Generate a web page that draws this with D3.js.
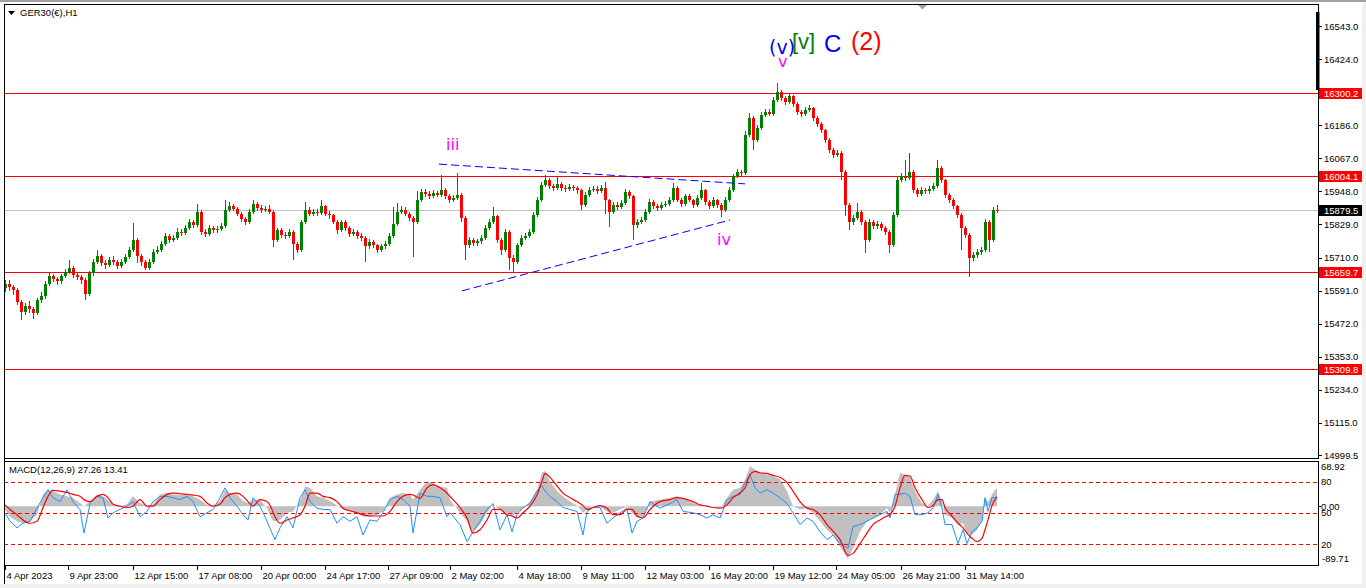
<!DOCTYPE html>
<html><head><meta charset="utf-8">
<script src="https://cdn.jsdelivr.net/npm/d3@7/dist/d3.min.js"></script>
<style>
html,body{margin:0;padding:0;background:#fff;overflow:hidden}
svg{display:block}
text{font-family:"Liberation Sans",Arial,sans-serif}
</style></head><body>
<svg id="c" width="1366" height="588"></svg>
<script>
// ---- price data (4-hour buckets of the H1 chart, bar time index in hours) ----
const hoursPerBar = 4;
const opens = [15600,15615,15604,15593,15550,15514,15535,15525,15510,15557,
15571,15615,15643,15633,15625,15643,15658,15672,15647,15640,
15629,15579,15654,15694,15715,15690,15683,15701,15694,15679,
15694,15712,15737,15773,15715,15694,15672,15694,15730,15737,
15759,15787,15773,15780,15802,15798,15816,15838,15827,15874,
15802,15795,15816,15809,15813,15823,15881,15895,15885,15867,
15849,15838,15874,15903,15888,15881,15885,15874,15773,15809,
15791,15787,15802,15759,15737,15838,15881,15867,15874,15870,
15895,15867,15862,15838,15809,15838,15816,15795,15802,15787,
15780,15751,15766,15755,15737,15751,15759,15787,15831,15874,
15881,15867,15852,15838,15917,15946,15939,15931,15942,15935,
15953,15931,15917,15924,15935,15852,15755,15773,15762,15769,
15780,15816,15838,15859,15773,15737,15802,15708,15694,15755,
15780,15787,15802,15863,15917,15971,15989,15967,15960,15975,
15960,15957,15964,15960,15953,15899,15935,15953,15957,15949,
15960,15917,15874,15899,15892,15906,15946,15931,15827,15838,
15845,15874,15910,15895,15888,15899,15903,15917,15960,15917,
15903,15931,15917,15899,15924,15953,15910,15895,15917,15899,
15881,15917,15953,16003,16018,16014,16151,16212,16133,16176,
16223,16234,16227,16277,16306,16284,16270,16291,16263,16234,
16227,16241,16248,16212,16191,16169,16133,16097,16079,16086,
16018,15899,15838,15852,15874,15838,15773,15838,15823,15831,
15816,15802,15755,15863,15989,16003,15996,16018,15953,15939,
15953,15949,15957,15967,16032,15989,15935,15917,15895,15863,
15816,15791,15708,15719,15730,15737,15838,15773,15881];
const highs = [15630,15628,15612,15600,15558,15548,15552,15533,15566,15585,
15626,15655,15652,15641,15650,15669,15701,15680,15656,15648,
15636,15662,15705,15737,15722,15700,15712,15716,15702,15706,
15724,15748,15834,15780,15722,15700,15704,15742,15752,15770,
15798,15795,15792,15815,15812,15826,15850,15846,15903,15880,
15812,15826,15822,15824,15835,15917,15910,15904,15892,15872,
15856,15884,15917,15910,15898,15896,15900,15880,15818,15815,
15802,15812,15808,15766,15846,15910,15890,15884,15886,15917,
15900,15876,15868,15845,15846,15844,15824,15814,15810,15798,
15786,15776,15774,15760,15760,15770,15798,15892,15906,15894,
15890,15874,15860,15950,15958,15956,15948,15954,15950,16007,
15960,15938,15936,16014,15942,15858,15784,15780,15778,15792,
15826,15848,15892,15864,15780,15812,15810,15720,15764,15790,
15798,15812,15872,15928,15982,16007,15996,15976,16000,15982,
15970,15974,15972,15968,15958,15944,15964,15968,15966,15970,
15982,15922,15908,15910,15916,15958,15954,15936,15848,15856,
15884,15920,15918,15904,15910,15914,15926,15978,15966,15924,
15940,15938,15922,15934,15978,15958,15916,15926,15922,15906,
15926,15962,16012,16028,16026,16165,16230,16218,16186,16234,
16246,16244,16288,16338,16312,16292,16300,16296,16268,16242,
16252,16259,16252,16218,16196,16174,16140,16104,16096,16092,
16024,15906,15864,15906,15880,15844,15850,15846,15842,15838,
15824,15810,15872,15998,16014,16061,16086,16024,15960,15962,
15960,15966,15978,16061,16040,15994,15942,15924,15900,15870,
15824,15798,15730,15740,15748,15848,15845,15890,15900];
const lows = [15585,15590,15575,15538,15485,15505,15512,15490,15502,15548,
15562,15608,15622,15612,15616,15635,15650,15638,15628,15616,
15557,15570,15645,15686,15680,15670,15676,15684,15668,15672,
15688,15705,15730,15690,15680,15664,15665,15688,15722,15730,
15750,15762,15765,15772,15788,15790,15808,15818,15820,15791,
15784,15788,15798,15800,15806,15815,15874,15876,15858,15838,
15826,15830,15866,15878,15870,15872,15866,15748,15766,15782,
15776,15780,15701,15726,15730,15830,15858,15860,15860,15864,
15858,15850,15830,15795,15802,15806,15784,15788,15776,15770,
15694,15742,15744,15726,15730,15742,15752,15780,15824,15866,
15858,15842,15712,15830,15910,15928,15920,15924,15926,15928,
15920,15906,15910,15916,15838,15701,15744,15750,15752,15760,
15772,15808,15830,15762,15719,15730,15665,15654,15688,15748,
15772,15780,15796,15856,15910,15962,15958,15950,15952,15950,
15946,15948,15950,15940,15880,15890,15928,15944,15940,15942,
15866,15820,15866,15882,15884,15898,15922,15773,15816,15830,
15838,15866,15886,15878,15880,15890,15896,15910,15908,15892,
15896,15908,15888,15892,15918,15900,15884,15888,15888,15856,
15874,15910,15946,15996,15998,16008,16142,16097,16126,16168,
16216,16218,16220,16270,16274,16258,16262,16252,16224,16216,
16220,16234,16202,16180,16158,16122,16086,16068,16070,15990,
15860,15809,15826,15844,15826,15726,15766,15812,15814,15806,
15790,15726,15748,15856,15980,15986,15988,15942,15928,15930,
15938,15940,15950,15960,15978,15924,15906,15884,15852,15737,
15780,15640,15698,15708,15720,15730,15730,15766,15870];
const closes = [15615,15604,15593,15550,15514,15535,15525,15510,15557,15571,
15615,15643,15633,15625,15643,15658,15672,15647,15640,15629,
15579,15654,15694,15715,15690,15683,15701,15694,15679,15694,
15712,15737,15773,15715,15694,15672,15694,15730,15737,15759,
15787,15773,15780,15802,15798,15816,15838,15827,15874,15802,
15795,15816,15809,15813,15823,15881,15895,15885,15867,15849,
15838,15874,15903,15888,15881,15885,15874,15773,15809,15791,
15787,15802,15759,15737,15838,15881,15867,15874,15870,15895,
15867,15862,15838,15809,15838,15816,15795,15802,15787,15780,
15751,15766,15755,15737,15751,15759,15787,15831,15874,15881,
15867,15852,15838,15917,15946,15939,15931,15942,15935,15953,
15931,15917,15924,15935,15852,15755,15773,15762,15769,15780,
15816,15838,15859,15773,15737,15802,15708,15694,15755,15780,
15787,15802,15863,15917,15971,15989,15967,15960,15975,15960,
15957,15964,15960,15953,15899,15935,15953,15957,15949,15960,
15917,15874,15899,15892,15906,15946,15931,15827,15838,15845,
15874,15910,15895,15888,15899,15903,15917,15960,15917,15903,
15931,15917,15899,15924,15953,15910,15895,15917,15899,15881,
15917,15953,16003,16018,16014,16151,16212,16133,16176,16223,
16234,16227,16277,16306,16284,16270,16291,16263,16234,16227,
16241,16248,16212,16191,16169,16133,16097,16079,16086,16018,
15899,15838,15852,15874,15838,15773,15838,15823,15831,15816,
15802,15755,15863,15989,16003,15996,16018,15953,15939,15953,
15949,15957,15967,16032,15989,15935,15917,15895,15863,15816,
15791,15708,15719,15730,15737,15838,15773,15881,15879.5];

// ---- horizontal levels ----
const levelPrices = [16300.2, 16004.1, 15659.7, 15309.8];
const currentPrice = 15879.5;
const priceTicks = [16543.0,16424.0,16186.0,16067.0,15948.0,15829.0,15710.0,15591.0,15472.0,15353.0,15234.0,15115.0,14999.5];

// ---- time axis (hour index) ----
const timeTicks = [0,63,128,192,256,320,383,445,512,576,640,704,768,831,896,960];
const timeLabels = ["4 Apr 2023","9 Apr 23:00","12 Apr 15:00","17 Apr 08:00","20 Apr 00:00","24 Apr 17:00","27 Apr 09:00","2 May 02:00","4 May 18:00","9 May 11:00","12 May 03:00","16 May 20:00","19 May 12:00","24 May 05:00","26 May 21:00","31 May 14:00"];

// ---- trend lines [t1,p1,t2,p2] ----
const trendUpper = [434,16046,740,15975];
const trendLower = [457,15590,725,15845];

// ---- wave annotations ----
const waveText  = ["iii","iv","v","(v)","[v]","C","(2)"];
const waveT     = [441,712,773,764,787,819,846];
const waveP     = [16096,15755,16395,16442,16460,16449,16457];
const waveColor = ["#ff00ff","#ff00ff","#ff00ff","#0000ff","#008000","#0000ff","#ff0000"];
const waveSize  = [16,16,16,19,22,24,25];
const waveFont  = ["DejaVu Sans","DejaVu Sans","DejaVu Sans","DejaVu Sans","Liberation Sans","Liberation Sans","Liberation Sans"];

// ---- MACD(12,26,9) ----
const macdT = [0,5,12,18,25,32,38,43,48,55,62,68,75,79,85,92,98,103,108,115,122,128,135,142,148,155,162,168,175,182,188,195,202,208,215,220,225,232,238,243,248,255,262,267,270,275,282,288,295,300,305,312,318,325,332,338,345,352,358,365,372,378,385,392,398,405,408,415,422,428,435,442,445,455,462,468,475,482,488,495,502,507,512,518,525,532,537,540,545,552,558,565,572,578,582,588,595,602,608,615,622,627,632,638,645,655,665,672,678,688,695,702,708,715,722,728,735,740,745,750,755,762,768,775,782,788,795,802,808,815,822,828,835,843,848,855,862,868,875,882,885,890,895,900,905,910,917,923,928,933,937,940,947,953,958,962,967,972,977,980,983,987,990,992];
const macdMain = [-5,-16,-23,-26,-23,-13,18,25,23,18,
15,13,5,-1,8,18,15,10,2,0,
3,15,5,0,3,18,20,18,17,17,
15,10,2,1,8,25,20,18,8,5,
10,10,-3,-21,-23,-21,-10,-8,7,30,
28,15,13,8,1,-5,-8,-10,-16,-16,
-13,-8,13,18,20,18,10,25,38,35,
30,28,10,-10,-23,-39,-28,-10,2,-5,
-10,-15,-10,-3,7,25,51,54,38,23,
15,7,1,-10,-5,1,-1,-8,-10,-5,
-1,-10,-18,-16,7,10,13,15,13,5,
2,1,0,-3,13,25,28,40,61,56,
51,48,46,41,23,0,-5,-3,-10,-23,
-36,-44,-62,-80,-64,-39,-23,-18,-13,-3,
-10,18,51,48,44,23,4,1,10,23,
7,-13,-18,-28,-26,-41,-44,-36,-23,13,
6,18,25,27.26];
const macdSignal = [2,-5,-13,-21,-26,-23,-2,15,24,23,
21,18,15,10,7,15,18,13,3,0,
-2,0,10,0,0,10,18,20,19,18,
17,15,5,0,3,13,18,20,15,7,
0,10,7,-5,-16,-26,-21,-18,-13,0,
20,20,15,13,7,-3,-7,-10,-13,-15,
-15,-15,-8,7,15,18,17,12,28,33,
28,20,15,-2,-18,-41,-36,-21,-5,-5,
-13,-15,-18,-10,0,17,38,50,44,31,
20,13,7,1,-5,-2,1,-3,-13,-13,
-5,-5,-15,-18,-5,7,10,13,12,7,
2,0,-2,-3,2,13,20,28,48,53,
51,50,47,44,36,23,7,-3,-5,-13,
-28,-38,-51,-75,-72,-57,-41,-28,-21,-15,
-13,0,28,47,46,28,10,-2,1,10,
10,-2,-15,-26,-33,-41,-49,-54,-49,-36,
-21,1,10,13.41];
const macdFast = [-10,-23,-33,-26,-23,-3,13,25,13,7,
25,7,-5,-41,4,15,13,-18,-10,-5,
0,7,-16,-8,7,15,15,13,10,15,
7,-16,-10,-5,13,28,13,0,-13,-21,
13,0,-23,-41,-51,-33,-16,-33,13,25,
7,-3,-5,-5,-26,-16,-23,-16,-44,-21,
-23,-10,10,15,10,0,-41,20,15,15,
13,-16,-10,-28,-54,-39,-23,-5,4,-36,
-13,-39,-13,-2,4,23,31,23,15,7,
-2,-5,-8,-44,-8,-2,-2,-26,-18,-10,
-3,-41,-23,-18,7,-3,4,10,-8,-10,
-13,-18,-13,-18,10,15,18,36,48,28,
20,25,20,13,4,-10,-28,-18,-23,-39,
-51,-44,-57,-64,-31,-28,-23,-18,-13,-8,
-18,18,18,20,15,-13,-13,-10,-3,18,
-3,-28,-28,-57,-36,-57,-39,-33,-23,13,
-8,13,13,15];
const macdLevels = [80,50,20];
const macdRange = [-89.71, 68.92];

// ================= drawing =================
const svg = d3.select("#c");
const W = 1366, H = 588;
const L = 4, R = 1318, mainTop = 4, mainBot = 458, mTop = 461, mBot = 565;

svg.append("rect").attr("width",W).attr("height",H).attr("fill","#f0f0f0");
svg.append("rect").attr("x",0).attr("y",2).attr("width",1362).attr("height",582).attr("fill","#fff");
svg.append("rect").attr("x",0).attr("y",0).attr("width",W).attr("height",2).attr("fill","#a0a0a0");

const x  = d3.scaleLinear().domain([0,992]).range([5,997]);
const y  = d3.scaleLinear().domain([14999.5,16543]).range([455,26]);
const ym = d3.scaleLinear().domain(macdRange).range([mBot,mTop]);
const yl = d3.scaleLinear().domain([0,100]).range([mBot,mTop]);

const defs = svg.append("defs");
defs.append("clipPath").attr("id","mc").append("rect").attr("x",L+1).attr("y",mainTop+1).attr("width",R-L-1).attr("height",mainBot-mainTop-1);
defs.append("clipPath").attr("id","dc").append("rect").attr("x",L+1).attr("y",mTop+1).attr("width",R-L-1).attr("height",mBot-mTop-1);

// main panel
const gm = svg.append("g").attr("clip-path","url(#mc)");
gm.append("line").attr("x1",L).attr("x2",R).attr("y1",Math.round(y(currentPrice))+0.5).attr("y2",Math.round(y(currentPrice))+0.5)
  .attr("stroke","#c0c0c0").attr("shape-rendering","crispEdges");
gm.selectAll("line.lvl").data(levelPrices).join("line").attr("class","lvl")
  .attr("x1",L).attr("x2",R).attr("y1",d=>Math.round(y(d))+0.5).attr("y2",d=>Math.round(y(d))+0.5)
  .attr("stroke","#ff0000").attr("shape-rendering","crispEdges");

const idx = d3.range(closes.length);
const col = i => closes[i] > opens[i] ? "#008000" : (closes[i] < opens[i] ? "#ff0000" : "#000000");
const cx = i => Math.round(x(i*hoursPerBar));
const gc = gm.append("g").attr("shape-rendering","crispEdges");
gc.selectAll("line.w").data(idx).join("line").attr("class","w")
  .attr("x1",i=>cx(i)+0.5).attr("x2",i=>cx(i)+0.5)
  .attr("y1",i=>y(highs[i])).attr("y2",i=>y(lows[i])).attr("stroke",col);
gc.selectAll("rect.b").data(idx).join("rect").attr("class","b")
  .attr("x",i=>cx(i)-1).attr("width",3)
  .attr("y",i=>y(Math.max(opens[i],closes[i])))
  .attr("height",i=>Math.max(1,Math.abs(y(opens[i])-y(closes[i]))))
  .attr("fill",col);

// trend lines
gm.selectAll("line.tr").data([trendUpper,trendLower]).join("line").attr("class","tr")
  .attr("x1",d=>x(d[0])).attr("y1",d=>y(d[1])).attr("x2",d=>x(d[2])).attr("y2",d=>y(d[3]))
  .attr("stroke","#0000ff").attr("stroke-width",1).attr("stroke-dasharray","8,4");

// wave labels
gm.selectAll("text.wv").data(waveText).join("text").attr("class","wv")
  .attr("x",(d,i)=>x(waveT[i])).attr("y",(d,i)=>y(waveP[i]))
  .attr("fill",(d,i)=>waveColor[i]).attr("font-size",(d,i)=>waveSize[i]+"px")
  .style("font-family",(d,i)=>'"'+waveFont[i]+'"').text(d=>d);

// title
svg.append("path").attr("d","M8,11L15,11L11.5,15Z").attr("fill","#000");
svg.append("text").attr("x",20).attr("y",16).attr("font-size","9.5px").attr("fill","#000").text("GER30(€),H1");
// shift marker
svg.append("path").attr("d","M918,5L927,5L922.5,9.5Z").attr("fill","#a0a0a0");

// price axis
const pa = svg.append("g").attr("transform",`translate(${R},0)`)
  .call(d3.axisRight(y).tickValues(priceTicks).tickSize(4).tickPadding(2).tickFormat(d=>d.toFixed(1)));
pa.select(".domain").remove();
pa.selectAll("line").attr("stroke","#000").attr("shape-rendering","crispEdges");
pa.selectAll("text").attr("font-size","9.5px").attr("font-family","Liberation Sans").attr("fill","#000");

// price markers
const marks = levelPrices.map(v=>({v:v,c:"#ff0000"})).concat([{v:currentPrice,c:"#000000"}]);
const gk = svg.append("g");
gk.selectAll("rect").data(marks).join("rect")
  .attr("x",R+1).attr("y",d=>Math.round(y(d.v))-5).attr("width",43).attr("height",11).attr("fill",d=>d.c);
gk.selectAll("text").data(marks).join("text")
  .attr("x",R+6).attr("y",d=>Math.round(y(d.v))+0.5).attr("dy","0.35em")
  .attr("font-size","9.5px").attr("fill","#fff").text(d=>d.v.toFixed(1));
svg.append("rect").attr("x",R-2).attr("y",12).attr("width",3.5).attr("height",78).attr("fill","#000");

// ---- MACD panel ----
const gd = svg.append("g").attr("clip-path","url(#dc)");
gd.append("path").datum(macdT)
  .attr("d",d3.area().x(t=>x(t)).y0(ym(0)).y1((t,i)=>ym(macdMain[i])))
  .attr("fill","#c0c0c0");
gd.selectAll("line.ml").data(macdLevels).join("line").attr("class","ml")
  .attr("x1",L).attr("x2",R).attr("y1",d=>Math.round(yl(d))+0.5).attr("y2",d=>Math.round(yl(d))+0.5)
  .attr("stroke","#ff0000").attr("stroke-dasharray","4,3").attr("shape-rendering","crispEdges");
gd.append("path").datum(macdT)
  .attr("d",d3.line().x(t=>x(t)).y((t,i)=>ym(macdFast[i])))
  .attr("fill","none").attr("stroke","#1e90ff").attr("stroke-width",1);
gd.append("path").datum(macdT)
  .attr("d",d3.line().curve(d3.curveMonotoneX).x(t=>x(t)).y((t,i)=>ym(macdSignal[i])))
  .attr("fill","none").attr("stroke","#ff0000").attr("stroke-width",1.2);

svg.append("text").attr("x",9).attr("y",472.5).attr("font-size","9.5px").attr("fill","#000")
  .text(`MACD(12,26,9) ${macdMain[macdMain.length-1].toFixed(2)} ${macdSignal[macdSignal.length-1].toFixed(2)}`);

// MACD right labels
const mlab = svg.append("g").attr("font-size","9.5px").attr("fill","#000");
mlab.append("text").attr("x",R+3).attr("y",ym(macdRange[1])+6).attr("dy","0.35em").text(macdRange[1].toFixed(2));
mlab.append("text").attr("x",R+3).attr("y",ym(0)).attr("dy","0.35em").text((0).toFixed(2));
mlab.append("text").attr("x",R+4).attr("y",ym(macdRange[0])-6).attr("dy","0.35em").text(macdRange[0].toFixed(2));
mlab.selectAll("text.lv").data(macdLevels).join("text").attr("class","lv")
  .attr("x",R+3).attr("y",d=>yl(d)).attr("dy","0.35em").text(d=>d);
svg.append("line").attr("x1",R).attr("x2",R+3).attr("y1",Math.round(ym(0))+0.5).attr("y2",Math.round(ym(0))+0.5).attr("stroke","#000").attr("shape-rendering","crispEdges");

// frames
svg.append("rect").attr("x",L+0.5).attr("y",mainTop+0.5).attr("width",R-L).attr("height",mainBot-mainTop)
  .attr("fill","none").attr("stroke","#000").attr("shape-rendering","crispEdges");
svg.append("rect").attr("x",L+0.5).attr("y",mTop+0.5).attr("width",R-L).attr("height",mBot-mTop)
  .attr("fill","none").attr("stroke","#000").attr("shape-rendering","crispEdges");
svg.append("line").attr("x1",L+0.5).attr("x2",L+0.5).attr("y1",mainTop).attr("y2",584).attr("stroke","#000").attr("shape-rendering","crispEdges");

// time axis
const ta = svg.append("g").attr("transform",`translate(0,${mBot+0.5})`)
  .call(d3.axisBottom(x).tickValues(timeTicks).tickSize(4).tickPadding(3).tickFormat((d,i)=>timeLabels[i]));
ta.select(".domain").remove();
ta.selectAll("line").attr("stroke","#000").attr("shape-rendering","crispEdges");
ta.selectAll("text").attr("text-anchor","start").attr("dx","1").attr("font-size","9.5px").attr("font-family","Liberation Sans").attr("fill","#000");
</script>
</body></html>
